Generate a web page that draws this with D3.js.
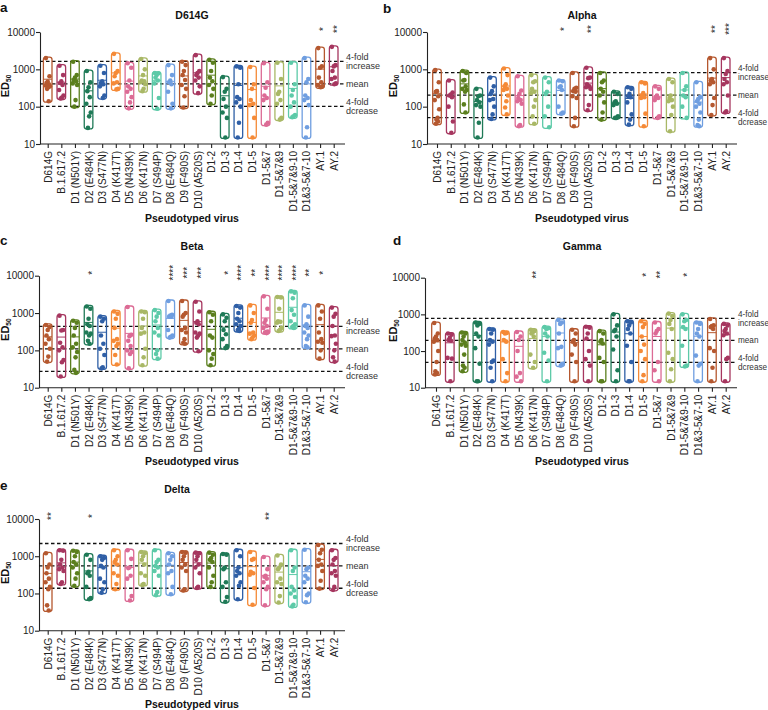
<!DOCTYPE html>
<html>
<head>
<meta charset="utf-8">
<script src="https://cdn.jsdelivr.net/npm/d3@7"></script>
<style>
  body { margin: 0; background: #fff; }
  svg { font-family: "Liberation Sans", Arial, sans-serif; }
</style>
</head>
<body>
<svg id="chart" width="768" height="710"></svg>
<script>
// Data (ED50 values per pseudotyped virus)
const categories = ["D614G", "B.1.617.2", "D1 (N501Y)", "D2 (E484K)", "D3 (S477N)", "D4 (K417T)",
  "D5 (N439K)", "D6 (K417N)", "D7 (S494P)", "D8 (E484Q)", "D9 (F490S)", "D10 (A520S)",
  "D1-2", "D1-3", "D1-4", "D1-5", "D1-5&7", "D1-5&7&9", "D1-5&7&9-10", "D1&3-5&7-10", "AY.1", "AY.2"];

const yTicks = [10, 100, 1000, 10000];

const d614gValues = [
  [2000, 650, 470, 430, 400, 370, 350, 330, 300, 140],
  [1250, 700, 480, 430, 380, 280, 200, 175, 165],
  [1600, 700, 600, 520, 480, 420, 380, 150, 100],
  [900, 450, 330, 260, 180, 120, 70, 55, 27],
  [1250, 800, 480, 430, 400, 350, 200, 170],
  [2600, 900, 800, 650, 450, 420, 300, 290],
  [1450, 1100, 500, 350, 300, 250, 180, 130, 90],
  [1900, 1000, 700, 500, 480, 450, 400, 300, 260],
  [800, 780, 700, 600, 500, 420, 170, 88],
  [1300, 700, 500, 450, 400, 250, 120, 90],
  [1600, 1300, 900, 700, 520, 380, 300, 190, 95],
  [2400, 900, 800, 700, 600, 500, 350, 230],
  [1800, 1500, 900, 600, 480, 380, 300, 200, 120],
  [620, 300, 250, 160, 100, 70, 50, 15],
  [1200, 1100, 400, 180, 160, 130, 100, 37, 15],
  [1150, 400, 300, 150, 120, 110, 50, 15],
  [1450, 450, 320, 200, 170, 150, 37, 33],
  [1500, 550, 250, 220, 150, 120, 50, 45],
  [1500, 400, 280, 200, 130, 100, 60, 55, 52],
  [2000, 550, 450, 200, 170, 150, 110, 28, 15],
  [3700, 1200, 1100, 600, 450, 380, 350, 330],
  [4000, 1300, 1200, 900, 600, 550, 420, 400]
];

const alphaValues = [
  [950, 450, 260, 250, 190, 150, 85, 50, 45, 40, 35],
  [500, 240, 210, 200, 180, 100, 40, 20],
  [900, 800, 520, 500, 350, 300, 280, 250, 115, 70],
  [300, 200, 190, 150, 130, 110, 100, 37, 15],
  [600, 350, 260, 220, 160, 150, 100, 62, 47],
  [1050, 700, 400, 350, 300, 280, 200, 140, 95, 62],
  [650, 270, 220, 170, 150, 140, 120, 32, 30],
  [700, 480, 450, 300, 250, 230, 150, 100, 55, 35],
  [600, 450, 250, 220, 100, 55, 28],
  [500, 480, 350, 330, 280, 100, 70, 65],
  [800, 320, 300, 260, 250, 190, 170, 50, 30],
  [1100, 600, 580, 400, 350, 330, 300, 110, 80],
  [800, 500, 450, 300, 250, 200, 130, 70, 45],
  [250, 220, 140, 130, 120, 110, 55, 50, 50],
  [330, 300, 220, 190, 180, 130, 62, 45, 33],
  [450, 420, 230, 200, 180, 170, 65, 30],
  [350, 300, 200, 180, 170, 150, 55, 50],
  [550, 450, 200, 170, 150, 140, 100, 60, 22],
  [800, 350, 280, 200, 180, 100, 50],
  [450, 180, 160, 140, 120, 100, 70, 45, 32, 30],
  [2000, 1000, 550, 500, 450, 400, 170, 110, 60],
  [2000, 900, 750, 550, 450, 400, 200, 75, 70]
];

const betaValues = [
  [480, 420, 350, 250, 200, 150, 110, 68, 50],
  [850, 350, 340, 160, 120, 100, 55, 48, 20],
  [620, 550, 400, 250, 150, 120, 90, 65, 30, 25],
  [1500, 1300, 700, 500, 450, 300, 280, 250, 180, 150],
  [800, 700, 600, 250, 150, 110, 75, 35, 33],
  [1100, 950, 700, 400, 200, 180, 150, 130, 75, 42],
  [1450, 260, 240, 180, 130, 100, 90, 80, 33],
  [1100, 1050, 700, 400, 300, 280, 110, 65, 40],
  [1200, 1000, 800, 600, 400, 300, 250, 100, 80, 60],
  [2100, 900, 850, 800, 800, 350, 250, 230, 220],
  [2100, 1000, 900, 800, 400, 350, 300, 200, 160, 150],
  [2000, 1100, 600, 550, 500, 300, 280, 250, 220, 95],
  [1050, 900, 600, 250, 220, 100, 80, 60, 40],
  [920, 750, 600, 350, 270, 200, 130, 115],
  [1550, 1400, 1000, 700, 600, 500, 450, 380, 350, 330],
  [1600, 1000, 650, 550, 300, 280, 250, 220, 200],
  [2800, 1300, 650, 550, 450, 400, 320, 310, 300, 290],
  [2700, 2600, 1300, 600, 580, 550, 400, 350, 330],
  [3800, 3500, 2500, 1200, 900, 600, 500, 450, 420, 400],
  [1600, 800, 500, 450, 400, 300, 250, 200, 130, 120],
  [1600, 1100, 700, 300, 200, 170, 160, 100, 60],
  [1400, 950, 800, 450, 250, 240, 150, 100, 65, 50]
];

const gammaValues = [
  [580, 300, 250, 220, 200, 180, 100, 50, 28, 25, 23],
  [300, 280, 230, 200, 190, 65, 62, 15],
  [320, 300, 250, 200, 170, 150, 140, 80, 40, 35, 28],
  [600, 550, 500, 300, 250, 120, 45, 15, 15],
  [400, 380, 300, 200, 180, 150, 55, 50, 35, 15],
  [330, 310, 300, 200, 180, 60, 25, 15],
  [330, 250, 200, 100, 25, 20, 15],
  [380, 350, 320, 300, 250, 80, 50, 35],
  [450, 420, 400, 300, 250, 90, 55, 15],
  [700, 600, 550, 300, 130, 120, 45, 40],
  [380, 300, 200, 180, 150, 80, 50, 15],
  [460, 430, 300, 220, 100, 60, 40, 15],
  [350, 300, 200, 180, 160, 65, 50, 15, 15],
  [1000, 500, 380, 350, 250, 110, 30, 15],
  [650, 600, 500, 400, 300, 140, 50, 15, 15],
  [650, 550, 450, 250, 150, 100, 60, 22, 15],
  [600, 400, 350, 300, 50, 30, 15],
  [1050, 900, 700, 550, 400, 90, 60, 32, 15],
  [1000, 700, 650, 450, 400, 140, 40, 38],
  [600, 550, 400, 300, 250, 75, 45, 40, 15],
  [750, 500, 480, 450, 400, 120, 100, 35, 15],
  [550, 500, 400, 350, 300, 270, 65, 60, 15]
];

const deltaValues = [
  [1200, 600, 500, 350, 250, 200, 150, 130, 48, 35],
  [1450, 1400, 800, 600, 500, 450, 400, 200, 180],
  [1400, 1300, 1000, 700, 600, 500, 350, 250, 160],
  [1100, 800, 380, 350, 300, 150, 75, 70],
  [1000, 900, 800, 550, 500, 250, 200, 130, 105],
  [1450, 1000, 800, 700, 600, 350, 300, 180, 130],
  [1450, 850, 500, 480, 300, 250, 85, 65],
  [1300, 1200, 1000, 800, 600, 350, 300, 180, 170],
  [1450, 800, 700, 550, 500, 400, 300, 110, 90],
  [1200, 1000, 800, 600, 400, 350, 150, 95],
  [1300, 1250, 1000, 800, 600, 500, 400, 130, 120],
  [1250, 1200, 1000, 800, 600, 500, 350, 150, 140],
  [1250, 1100, 900, 800, 700, 500, 300, 200, 150],
  [1150, 1100, 500, 450, 200, 150, 80, 60],
  [1450, 1000, 500, 400, 350, 300, 200, 160, 70],
  [1300, 850, 800, 380, 350, 320, 140, 50],
  [950, 450, 300, 280, 250, 200, 150, 130, 48],
  [1050, 600, 500, 450, 250, 200, 180, 85, 57],
  [1450, 500, 400, 150, 120, 100, 80, 50, 45],
  [1500, 500, 450, 300, 250, 200, 100, 90, 58],
  [2000, 1500, 1200, 800, 600, 550, 400, 220, 135],
  [1450, 900, 800, 600, 400, 350, 300, 150, 125]
];

// reference lines: [4-fold increase, mean, 4-fold decrease]
const d614gLines = [1640, 410, 102];
const alphaLines = [820, 205, 51];
const betaLines = [440, 110, 27.5];
const gammaLines = [780, 195, 49];
const deltaLines = [2200, 550, 138];

// significance marks
const d614gStars = [["AY.1", "*"], ["AY.2", "**"]];
const alphaStars = [["D8 (E484Q)", "*"], ["D10 (A520S)", "**"], ["AY.1", "**"], ["AY.2", "***"]];
const betaStars = [["D2 (E484K)", "*"], ["D8 (E484Q)", "****"], ["D9 (F490S)", "***"], ["D10 (A520S)", "***"],
  ["D1-3", "*"], ["D1-4", "****"], ["D1-5", "**"], ["D1-5&7", "****"], ["D1-5&7&9", "****"],
  ["D1-5&7&9-10", "****"], ["D1&3-5&7-10", "**"], ["AY.1", "*"]];
const gammaStars = [["D6 (K417N)", "**"], ["D1-5", "*"], ["D1-5&7", "**"], ["D1-5&7&9-10", "*"]];
const deltaStars = [["D614G", "**"], ["D2 (E484K)", "*"], ["D1-5&7", "**"]];

// colours cycle every 10 categories
const palette = ["#b5582f", "#a6365f", "#5b7f1e", "#1f7a57", "#2f5fa6",
  "#f58a37", "#dc6b95", "#a9b866", "#5dcaa8", "#6f9ee0"];

const svg = d3.select("#chart");

// right-hand panels sit against the page edge, so their line labels are a bit smaller
const panels = [
  { letter: "a", title: "D614G", values: d614gValues, lines: d614gLines, stars: d614gStars,
    axisX: 40, x0: 47.7, x1: 333.7, axisEnd: 345, yTop: 32, yBot: 144, refFont: 9,
    titleX: 192, titleY: 18.5, letterX: 0, letterY: 12, yLabX: 9, xTitleX: 192, xTitleY: 222 },
  { letter: "b", title: "Alpha", values: alphaValues, lines: alphaLines, stars: alphaStars,
    axisX: 427, x0: 437, x1: 725.7, axisEnd: 737, yTop: 32, yBot: 144, refFont: 8.2,
    titleX: 582, titleY: 18.5, letterX: 383, letterY: 12.5, yLabX: 397, xTitleX: 582, xTitleY: 222 },
  { letter: "c", title: "Beta", values: betaValues, lines: betaLines, stars: betaStars,
    axisX: 39, x0: 47.7, x1: 333.7, axisEnd: 345, yTop: 275.7, yBot: 387.7, refFont: 9,
    titleX: 192, titleY: 250, letterX: 0, letterY: 245, yLabX: 9, xTitleX: 192, xTitleY: 465 },
  { letter: "d", title: "Gamma", values: gammaValues, lines: gammaLines, stars: gammaStars,
    axisX: 425, x0: 436, x1: 725.7, axisEnd: 737, yTop: 277.7, yBot: 387.7, refFont: 8.2,
    titleX: 582, titleY: 250, letterX: 393, letterY: 245, yLabX: 397, xTitleX: 582, xTitleY: 465 },
  { letter: "e", title: "Delta", values: deltaValues, lines: deltaLines, stars: deltaStars,
    axisX: 39, x0: 47.7, x1: 333.7, axisEnd: 345, yTop: 519, yBot: 630.7, refFont: 9,
    titleX: 177, titleY: 493, letterX: 0, letterY: 490, yLabX: 9, xTitleX: 192, xTitleY: 708 }
];

// small horizontal offsets so dots do not sit on top of each other
const jitter = [-1.8, 1.8, 0, -1.2, 1.2, -2.2, 2.2, 0.6, -0.6, 1, -1];

function drawPanel(p) {
  const g = svg.append("g");
  const x = d3.scalePoint().domain(categories).range([p.x0, p.x1]);
  const y = d3.scaleLog().domain([10, 10000]).range([p.yBot, p.yTop]);

  // panel letter and title
  g.append("text").attr("x", p.letterX).attr("y", p.letterY)
    .attr("font-size", 13.5).attr("font-weight", "bold").attr("fill", "#111").text(p.letter);
  g.append("text").attr("x", p.titleX).attr("y", p.titleY).attr("text-anchor", "middle")
    .attr("font-size", 10.5).attr("font-weight", "bold").attr("fill", "#111").text(p.title);

  // y axis
  const yAxis = g.append("g").attr("transform", `translate(${p.axisX},0)`)
    .call(d3.axisLeft(y).tickValues(yTicks).tickFormat(d3.format("d")).tickSize(4).tickSizeOuter(0));
  yAxis.select(".domain").attr("stroke", "#222").attr("stroke-width", 1.1);
  yAxis.selectAll(".tick line").attr("stroke", "#222").attr("stroke-width", 1.1);
  yAxis.selectAll(".tick text").attr("font-size", 10).attr("fill", "#222")
    .attr("font-family", "'Liberation Sans', Arial, sans-serif").attr("x", -5);

  // x axis
  const xAxis = g.append("g").attr("transform", `translate(0,${p.yBot})`)
    .call(d3.axisBottom(x).tickSize(4).tickSizeOuter(0));
  xAxis.select(".domain").remove();
  xAxis.append("line").attr("x1", p.axisX).attr("x2", p.axisEnd)
    .attr("stroke", "#222").attr("stroke-width", 1.1);
  xAxis.selectAll(".tick line").attr("stroke", "#222").attr("stroke-width", 1.1);
  xAxis.selectAll(".tick text")
    .attr("font-size", 10).attr("fill", "#222")
    .attr("font-family", "'Liberation Sans', Arial, sans-serif")
    .attr("text-anchor", "end")
    .attr("transform", "rotate(-90)")
    .attr("x", -7).attr("y", 0).attr("dy", "0.35em");

  // y label ED50
  const yl = g.append("text")
    .attr("transform", `translate(${p.yLabX},${(p.yTop + p.yBot) / 2 - 2}) rotate(-90)`)
    .attr("text-anchor", "middle").attr("font-size", 11).attr("font-weight", "bold").attr("fill", "#111");
  yl.append("tspan").text("ED");
  yl.append("tspan").attr("font-size", 6.5).attr("dy", 2).text("50");

  // x title
  g.append("text").attr("x", p.xTitleX).attr("y", p.xTitleY).attr("text-anchor", "middle")
    .attr("font-size", 10.5).attr("font-weight", "bold").attr("fill", "#111").text("Pseudotyped virus");

  // dashed reference lines and their labels
  g.selectAll(".ref").data(p.lines).join("line")
    .attr("x1", p.axisX).attr("x2", p.axisEnd)
    .attr("y1", d => y(d)).attr("y2", d => y(d))
    .attr("stroke", "#111").attr("stroke-width", 1.3).attr("stroke-dasharray", "3.5,2.5");

  const refLabels = [["4-fold", "increase"], ["mean"], ["4-fold", "dcrease"]];
  p.lines.forEach((v, i) => {
    const rows = refLabels[i];
    const t = g.append("text").attr("font-size", p.refFont).attr("fill", "#333");
    rows.forEach((r, j) => {
      const off = rows.length === 1 ? 0 : (j === 0 ? -4.6 : 4.8);
      t.append("tspan").attr("x", p.axisEnd + 1).attr("y", y(v) + off).attr("dy", "0.35em").text(r);
    });
  });

  // floating bars (min to max) with mean line and points
  categories.forEach((c, i) => {
    const vals = p.values[i];
    const col = palette[i % 10];
    const cx = x(c);
    const hi = d3.max(vals), lo = d3.min(vals);
    g.append("rect")
      .attr("x", cx - 4.3).attr("width", 8.6)
      .attr("y", y(hi) - 1).attr("height", y(lo) - y(hi) + 2)
      .attr("rx", 2.5).attr("fill", "none")
      .attr("stroke", col).attr("stroke-width", 1.3);
    const m = d3.mean(vals);
    g.append("line").attr("x1", cx - 4.3).attr("x2", cx + 4.3)
      .attr("y1", y(m)).attr("y2", y(m)).attr("stroke", col).attr("stroke-width", 1);
    g.selectAll(null).data(vals).join("circle")
      .attr("cx", (d, k) => cx + jitter[k % jitter.length])
      .attr("cy", d => y(d))
      .attr("r", 2.3).attr("fill", col);
  });

  // significance stars, written vertically
  p.stars.forEach(([c, s]) => {
    g.append("text")
      .attr("transform", `translate(${x(c) + 1.5},${y(10000) - 3}) rotate(-90)`)
      .attr("text-anchor", "middle").attr("dy", "0.55em")
      .attr("font-size", 10).attr("fill", "#222").text(s);
  });
}

panels.forEach(drawPanel);
</script>
</body>
</html>
